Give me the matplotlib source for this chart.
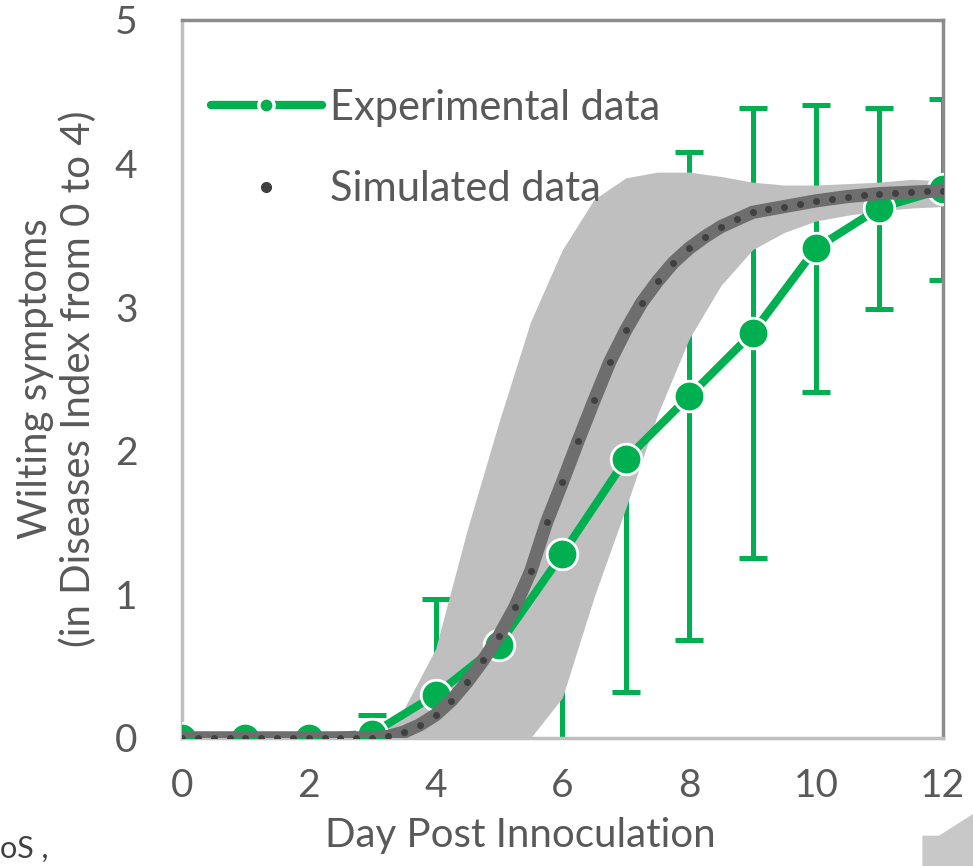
import numpy as np
import matplotlib
matplotlib.use("Agg")
import matplotlib.pyplot as plt
from matplotlib.lines import Line2D
from matplotlib.patches import Polygon

# experimental data (mean +/- error), one point per day
exp_days = [0, 1, 2, 3, 4, 5, 6, 7, 8, 9, 10, 11, 12]
exp_mean = [0, 0, 0, 0.03, 0.3, 0.65, 1.28, 1.94, 2.38, 2.82, 3.41, 3.69, 3.82]
exp_err = [0, 0, 0, 0.13, 0.67, 1.1, 1.35, 1.62, 1.7, 1.57, 1.0, 0.7, 0.63]

# simulated curve, read every quarter day
sim_days = np.arange(0, 12.01, 0.25)
sim_vals = [0, 0, 0, 0, 0, 0, 0, 0, 0, 0, 0, 0, 0,
            0.01, 0.04, 0.09, 0.16, 0.26, 0.39, 0.54, 0.71, 0.91, 1.16, 1.5,
            1.78, 2.07, 2.35, 2.62, 2.84, 3.03, 3.18, 3.31, 3.41, 3.49, 3.56,
            3.61, 3.66, 3.68, 3.70, 3.72, 3.74, 3.755, 3.77, 3.78, 3.79,
            3.795, 3.80, 3.805, 3.81]

# spread of the simulations, every half day
band_days = np.arange(0, 12.01, 0.5)
band_hi = [0, 0, 0, 0, 0, 0, 0.03, 0.2, 0.62, 1.45, 2.2, 2.9, 3.4, 3.75,
           3.9, 3.94, 3.94, 3.91, 3.87, 3.85, 3.85, 3.86, 3.87, 3.89, 3.88]
band_lo = [0, 0, 0, 0, 0, 0, 0, 0, 0, 0, 0, 0, 0.28, 0.98, 1.6, 2.25, 2.78,
           3.15, 3.4, 3.52, 3.6, 3.64, 3.67, 3.69, 3.7]

green = "#00b050"
txt = "#595959"
plt.rcParams["font.family"] = ["Lato", "DejaVu Sans"]

fig = plt.figure(figsize=(9.73, 8.66), dpi=100)
ax = fig.add_axes([0.187, 0.148, 0.782, 0.829])

# error bars sit under the grey band
ax.errorbar(exp_days, exp_mean, yerr=exp_err, fmt="none", ecolor=green,
            elinewidth=3.6, capsize=10, capthick=3.6, zorder=1)
ax.fill_between(band_days, band_lo, band_hi, color="#bfbfbf", lw=0, zorder=2)
ax.plot(exp_days, exp_mean, color=green, lw=5.8, marker="o", ms=22,
        mfc=green, mec="white", mew=2, zorder=3)
ax.plot(sim_days, sim_vals, color="#6e6e6e", lw=9.5, solid_capstyle="round",
        zorder=4)
ax.plot(sim_days, sim_vals, ls="none", marker="o", ms=4, color="#404040",
        zorder=5)

ax.set_xlim(0, 12)
ax.set_ylim(0, 5)
ax.set_xticks([0, 2, 4, 6, 8, 10, 12])
ax.set_yticks([0, 1, 2, 3, 4, 5])
ax.tick_params(length=0, labelsize=28, labelcolor=txt)
ax.tick_params(axis="x", pad=22)
ax.tick_params(axis="y", pad=32)
for s in ["left", "bottom"]:
    ax.spines[s].set_color("#bfbfbf")
    ax.spines[s].set_linewidth(2.5)
for s in ["top", "right"]:
    ax.spines[s].set_color("#8c8c8c")
    ax.spines[s].set_linewidth(2.5)

ax.set_xlabel("Day Post Innoculation", fontsize=29, color=txt)
ax.xaxis.set_label_coords(0.445, -0.11)
ax.set_ylabel("Wilting symptoms\n(in Diseases Index from 0 to 4)",
              fontsize=29, color=txt, linespacing=1.15)
ax.yaxis.set_label_coords(-0.112, 0.5)

handles = [
    Line2D([], [], color=green, lw=6, marker="o", ms=11, mfc=green,
           mec="white", mew=2.5, solid_capstyle="round"),
    Line2D([], [], ls="none", marker="o", ms=7, color="#404040"),
]
ax.legend(handles, ["Experimental data", "Simulated data"], loc="upper left",
          bbox_to_anchor=(0.0, 0.945), frameon=False, fontsize=30,
          labelcolor=txt, handlelength=2.65, handletextpad=0.2,
          labelspacing=1.05, borderaxespad=0.3)

# bits of the neighbouring slide that were cropped in
fig.text(0.0, 0.004, "oS ,", fontsize=22, color="#404040", ha="left",
         va="bottom")
fig.patches.append(Polygon([[0.948, 0.0], [1.0, 0.0], [1.0, 0.06],
                            [0.965, 0.035], [0.948, 0.035]],
                           closed=True, transform=fig.transFigure,
                           facecolor="#c8c8c8", edgecolor="none"))

fig.savefig("out.png", dpi=100)
